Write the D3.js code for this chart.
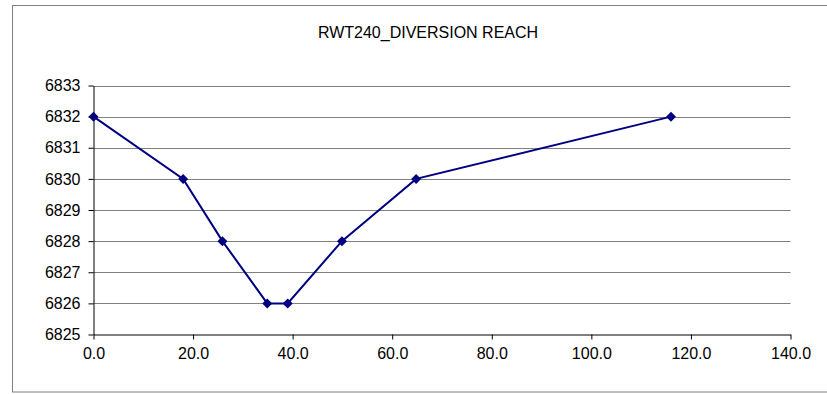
<!DOCTYPE html>
<html><head><meta charset="utf-8">
<script src="https://cdn.jsdelivr.net/npm/d3@7/dist/d3.min.js"></script>
<style>body{margin:0;background:#fff;}svg{display:block;font-family:"Liberation Sans",Arial,sans-serif;}</style>
</head><body>
<script>
const title = "RWT240_DIVERSION REACH";
const stations = [0, 18.0, 25.9, 34.9, 39.0, 49.9, 64.8, 116.0];
const elevations = [6832, 6830, 6828, 6826, 6826, 6828, 6830, 6832];
const xTicks = [0, 20, 40, 60, 80, 100, 120, 140];
const yTicks = [6825, 6826, 6827, 6828, 6829, 6830, 6831, 6832, 6833];

const W = 827, H = 394;
const svg = d3.select("body").append("svg").attr("width", W).attr("height", H);
svg.append("rect").attr("x", 12.5).attr("y", 5.5).attr("width", 830).attr("height", 386.5)
  .attr("fill", "#fff").attr("stroke", "#808080").attr("stroke-width", 1);

const x = d3.scaleLinear().domain([0, 140]).range([93.5, 790.5]);
const y = d3.scaleLinear().domain([6825, 6833]).range([334.5, 85.5]);

svg.append("text").attr("x", 428).attr("y", 38).attr("text-anchor", "middle")
  .attr("font-size", 16).attr("fill", "#000").text(title);

// gridlines
svg.append("g").selectAll("line").data(yTicks.slice(1)).join("line")
  .attr("x1", x(0)).attr("x2", x(140)).attr("y1", d => Math.round(y(d)) + 0.5).attr("y2", d => Math.round(y(d)) + 0.5)
  .attr("stroke", "#808080").attr("stroke-width", 1);

const yAxis = d3.axisLeft(y).tickValues(yTicks).tickSize(5).tickSizeOuter(0).tickPadding(8).tickFormat(d3.format("d"));
const gy = svg.append("g").attr("transform", `translate(${x(0)},0)`).call(yAxis);
const xAxis = d3.axisBottom(x).tickValues(xTicks).tickSize(5).tickSizeOuter(0).tickPadding(8).tickFormat(d3.format(".1f"));
const gx = svg.append("g").attr("transform", `translate(0,${y(6825)})`).call(xAxis);
[gx, gy].forEach(g => {
  g.attr("font-size", 16);
  g.selectAll(".domain").attr("stroke", "#000");
  g.selectAll(".tick line").attr("stroke", "#000");
  g.selectAll("text").attr("font-size", 16).attr("fill", "#000").attr("font-family", '"Liberation Sans",Arial,sans-serif');
});

const pts = stations.map((s, i) => [s, elevations[i]]);
svg.append("path").datum(pts)
  .attr("d", d3.line().x(d => x(d[0])).y(d => y(d[1])))
  .attr("fill", "none").attr("stroke", "#000080").attr("stroke-width", 2);

svg.append("g").selectAll("path").data(pts).join("path")
  .attr("transform", d => `translate(${x(d[0])},${y(d[1])})`)
  .attr("d", "M0,-5L5,0L0,5L-5,0Z").attr("fill", "#000080");
</script>
</body></html>
